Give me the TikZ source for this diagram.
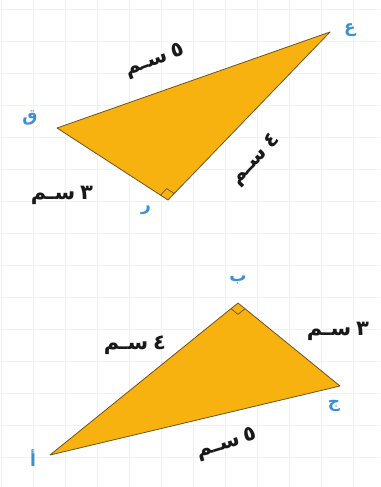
\documentclass[tikz,border=0pt]{standalone}
\usepackage{fontspec}
\newfontfamily\arabicfont[Script=Arabic]{DejaVu Sans}
\TeXXeTstate=1
\usetikzlibrary{calc}
\definecolor{trifill}{HTML}{F7B20F}
\definecolor{triedge}{HTML}{6B5420}
\definecolor{vlabel}{HTML}{3C8FD2}
\definecolor{gridc}{HTML}{F2F0F0}
\tikzset{
  tri/.style={fill=trifill,draw=triedge,line width=0.8pt,line join=round},
  rmark/.style={draw=triedge,line width=0.7pt},
  vlab/.style={text=vlabel,font=\arabicfont\bfseries\fontsize{17}{19}\selectfont,inner sep=0pt},
  mlab/.style={text=black!90,font=\arabicfont\bfseries\fontsize{21}{23}\selectfont,inner sep=0pt},
}
\begin{document}
\begin{tikzpicture}[x=1pt,y=-1pt]
\useasboundingbox (0,0) rectangle (380,487);
\fill[white] (0,0) rectangle (380,487);
\foreach \x in {1,33,...,380} \draw[gridc,line width=0.8pt] (\x,0) -- (\x,487);
\foreach \y in {9,41,...,487} \draw[gridc,line width=0.8pt] (0,\y) -- (380,\y);
% top triangle
\coordinate (Q) at (57,128);
\coordinate (E) at (330,32);
\coordinate (R) at (168,200);
\draw[tri] (Q) -- (E) -- (R) -- cycle;
\draw[rmark] ($(R)!9pt!(Q)$) -- ($($(R)!9pt!(Q)$)+($(R)!9pt!(E)$)-(R)$) -- ($(R)!9pt!(E)$);
\node[vlab] (lE) at (350,30) {\beginR ع\endR};
\node[vlab] (lQ) at (30,118) {\beginR ق\endR};
\node[vlab] (lR) at (146,210) {\beginR ر\endR};
\node[mlab,rotate=20] (m1) at (155,61) {\beginR ٥\hspace{5pt}سـم\endR};
\node[mlab,rotate=46] (m2) at (256,160) {\beginR ٤\hspace{5pt}سـم\endR};
\node[mlab] (m3) at (62,195) {\beginR ٣\hspace{5pt}سـم\endR};
% bottom triangle
\coordinate (B) at (238,303);
\coordinate (A) at (50,455);
\coordinate (J) at (340,386);
\draw[tri] (A) -- (B) -- (J) -- cycle;
\draw[rmark] ($(B)!9pt!(A)$) -- ($($(B)!9pt!(A)$)+($(B)!9pt!(J)$)-(B)$) -- ($(B)!9pt!(J)$);
\node[vlab] (lB) at (238,280) {\beginR ب\endR};
\node[vlab] (lJ) at (334,406) {\beginR ج\endR};
\node[vlab] (lA) at (33,458) {\beginR أ\endR};
\node[mlab] (m4) at (135,345) {\beginR ٤\hspace{5pt}سـم\endR};
\node[mlab] (m5) at (338,331) {\beginR ٣\hspace{5pt}سـم\endR};
\node[mlab,rotate=17] (m6) at (227,444) {\beginR ٥\hspace{5pt}سـم\endR};
\end{tikzpicture}
\end{document}
